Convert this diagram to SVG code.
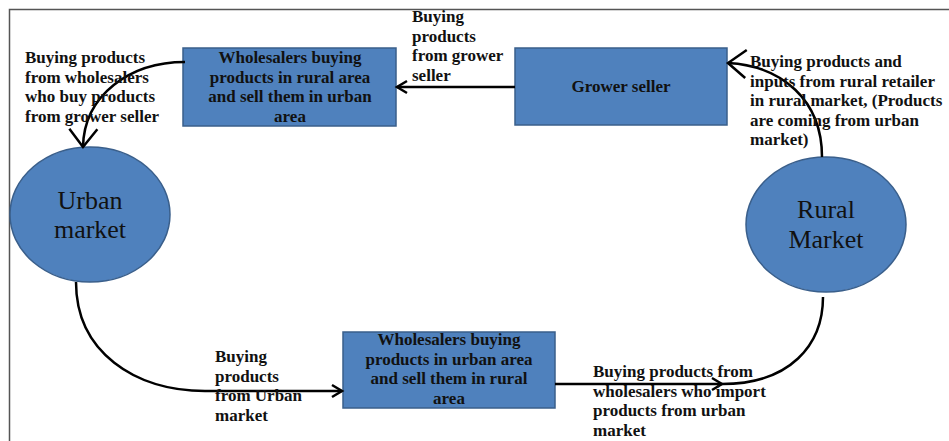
<svg xmlns="http://www.w3.org/2000/svg" width="949" height="441" viewBox="0 0 949 441">
<style>
.node{fill:#4f81bd;stroke:#3a5f8b;stroke-width:1.5}
.b{font-family:"Liberation Serif","Times New Roman",serif;font-weight:bold;font-size:17px;fill:#111}
.c{text-anchor:middle}
.big{font-family:"Liberation Serif","Times New Roman",serif;font-size:26px;fill:#111;text-anchor:middle}
.conn{fill:none;stroke:#000;stroke-width:2.5}
</style>
<defs>
<marker id="bigArrow" markerUnits="userSpaceOnUse" orient="auto" overflow="visible" markerWidth="1" markerHeight="1" refX="0" refY="0">
<path d="M-18,-14 L0,0 L-18,14" fill="none" stroke="#000" stroke-width="2.5"/>
</marker>
<marker id="smallArrow" markerUnits="userSpaceOnUse" orient="auto" overflow="visible" markerWidth="1" markerHeight="1" refX="0" refY="0">
<path d="M-10,-6 L0,0 L-10,6" fill="none" stroke="#000" stroke-width="2.5"/>
</marker>
</defs>
<rect width="949" height="441" fill="#fff"/>
<path d="M9.5,441 V9.5 H949" fill="none" stroke="#555" stroke-width="1.5"/>

<g id="wholesalers-rural">
<rect class="node" x="183" y="48" width="213" height="78"/>
<text class="b c" x="290" y="63">Wholesalers buying</text>
<text class="b c" x="290" y="82.5">products in rural area</text>
<text class="b c" x="290" y="102">and sell them in urban</text>
<text class="b c" x="290" y="121.5">area</text>
</g>

<g id="grower-seller">
<rect class="node" x="515" y="48" width="212" height="77"/>
<text class="b c" x="621" y="92">Grower seller</text>
</g>

<g id="urban-market">
<ellipse class="node" cx="90" cy="214.5" rx="80" ry="67.5"/>
<text class="big" x="90" y="209">Urban</text>
<text class="big" x="90" y="238">market</text>
</g>

<g id="rural-market">
<ellipse class="node" cx="826" cy="224.5" rx="80" ry="67.5"/>
<text class="big" x="826" y="218">Rural</text>
<text class="big" x="826" y="248">Market</text>
</g>

<g id="wholesalers-urban">
<rect class="node" x="343" y="332" width="212" height="76"/>
<text class="b c" x="449" y="345">Wholesalers buying</text>
<text class="b c" x="449" y="364.5">products in urban area</text>
<text class="b c" x="449" y="384">and sell them in rural</text>
<text class="b c" x="449" y="403.5">area</text>
</g>

<g id="connectors">
<path class="conn" d="M515,87 L397,87" marker-end="url(#smallArrow)"/>
<path class="conn" d="M185,62 C130,62 84,95 83,147" marker-end="url(#bigArrow)"/>
<path class="conn" d="M76,282 C76,352 135,391 205,391 L342,391" marker-end="url(#smallArrow)"/>
<path class="conn" d="M555,384 L722,384" marker-end="url(#smallArrow)"/>
<path class="conn" d="M823,297 C823,345 790,384 722,384"/>
<path class="conn" d="M822,157 C822,100 782,66 728,63" marker-end="url(#bigArrow)"/>
</g>

<g id="labels">
<text class="b" x="412" y="22">Buying</text>
<text class="b" x="412" y="41.5">products</text>
<text class="b" x="412" y="61">from grower</text>
<text class="b" x="412" y="80.5">seller</text>

<text class="b" x="25" y="63">Buying products</text>
<text class="b" x="25" y="82.5">from wholesalers</text>
<text class="b" x="25" y="102">who buy products</text>
<text class="b" x="25" y="121.5">from grower seller</text>

<text class="b" x="750" y="67">Buying products and</text>
<text class="b" x="750" y="86.5">inputs from rural retailer</text>
<text class="b" x="750" y="106">in rural market, (Products</text>
<text class="b" x="750" y="125.5">are coming from urban</text>
<text class="b" x="750" y="145">market)</text>

<text class="b" x="215" y="362">Buying</text>
<text class="b" x="215" y="381.5">products</text>
<text class="b" x="215" y="401">from Urban</text>
<text class="b" x="215" y="420.5">market</text>

<text class="b" x="593" y="377">Buying products from</text>
<text class="b" x="593" y="396.5">wholesalers who import</text>
<text class="b" x="593" y="416">products from urban</text>
<text class="b" x="593" y="435.5">market</text>
</g>
</svg>
